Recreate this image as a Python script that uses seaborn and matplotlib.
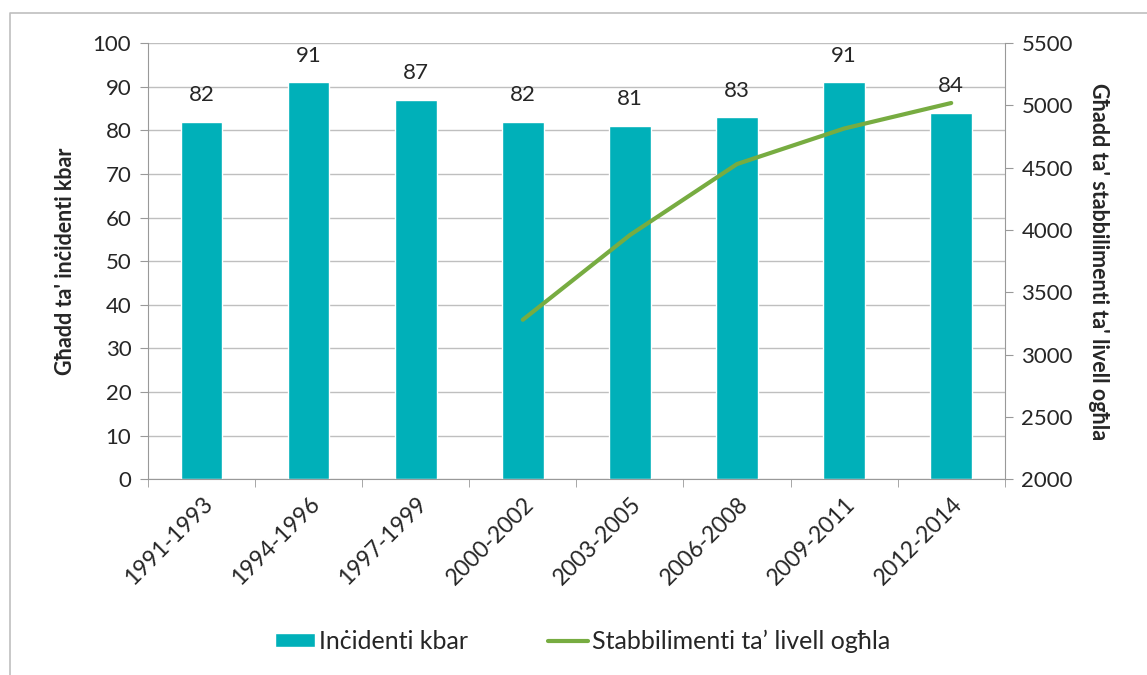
import numpy as np
import pandas as pd
import seaborn as sns
from matplotlib import pyplot as plt
from matplotlib.lines import Line2D

periods = ['1991-1993', '1994-1996', '1997-1999', '2000-2002',
           '2003-2005', '2006-2008', '2009-2011', '2012-2014']
incidents = [82, 91, 87, 82, 81, 83, 91, 84]
establishments = [np.nan, np.nan, np.nan, 3280, 3960, 4530, 4815, 5020]

bar_color = '#00B0B9'
line_color = '#77AC41'
grid_color = '#BFBFBF'

sns.set_style('white')
plt.rcParams['font.family'] = ['Lato', 'DejaVu Sans']

df = pd.DataFrame({'period': periods, 'incidents': incidents,
                   'establishments': establishments})
df['pos'] = np.arange(len(df))

fig = plt.figure(figsize=(11.47, 6.75), dpi=100)
ax = fig.add_axes([0.129, 0.290, 0.747, 0.646])

sns.barplot(data=df, x='period', y='incidents', color=bar_color,
            width=0.39, saturation=1, ax=ax, label='Inċidenti kbar')
for p, v in zip(df['pos'], df['incidents']):
    ax.annotate(str(v), (p, v), xytext=(0, 12), textcoords='offset points',
                ha='center', va='bottom', fontsize=16)

ax.set_ylim(0, 100)
ax.set_yticks(range(0, 101, 10))
ax.set_xlim(-0.5, len(df) - 0.5)
ax.yaxis.grid(True, color=grid_color, linewidth=1)
ax.set_axisbelow(True)
ax.set_xlabel('')
ax.set_ylabel("Għadd ta' inċidenti kbar", fontsize=15.5, fontweight='bold',
              labelpad=12)
ax.set_xticks(np.arange(len(df)))
ax.set_xticklabels(periods, rotation=45, ha='right', rotation_mode='anchor',
                   fontsize=16.5)
ax.tick_params(axis='y', labelsize=16, length=6, color='#999999',
               direction='out', left=True, pad=6)
ax.tick_params(axis='x', length=0, pad=10)
# Excel style boundary ticks
ax.set_xticks(np.arange(len(df) + 1) - 0.5, minor=True)
ax.tick_params(axis='x', which='minor', length=6, color='#999999',
               direction='out', bottom=True)
for s in ['top', 'right']:
    ax.spines[s].set_visible(False)
for s in ['left', 'bottom']:
    ax.spines[s].set_color('#999999')

ax2 = ax.twinx()
line_df = df.dropna(subset=['establishments'])
sns.lineplot(data=line_df, x='pos', y='establishments', color=line_color,
             linewidth=3, ax=ax2, label='Stabbilimenti ta’ livell ogħla')
ax2.set_ylim(2000, 5500)
ax2.set_yticks(range(2000, 5501, 500))
ax2.set_ylabel("Għadd ta' stabbilimenti ta' livell ogħla", fontsize=15.5,
               fontweight='bold', rotation=270, labelpad=26)
ax2.tick_params(axis='y', labelsize=16, length=6, color='#999999',
                direction='out', right=True, pad=6)
for s in ['top', 'left', 'bottom']:
    ax2.spines[s].set_visible(False)
ax2.spines['right'].set_color('#999999')
ax2.set_xlim(-0.5, len(df) - 0.5)

h1, l1 = ax.get_legend_handles_labels()
h2, l2 = ax2.get_legend_handles_labels()
for a in (ax, ax2):
    if a.get_legend():
        a.get_legend().remove()
fig.legend(h1 + h2, l1 + l2, loc='center', bbox_to_anchor=(0.508, 0.05),
           ncol=2, frameon=False, fontsize=18, handlelength=1.6,
           handleheight=0.5, columnspacing=3.2, handletextpad=0.15)

# chart area border (top and left edges visible)
fig.lines.append(Line2D([10 / 1147, 10 / 1147, 1.0], [0.0, 1 - 13 / 675, 1 - 13 / 675],
                        transform=fig.transFigure, color='#BFBFBF', linewidth=1.2))

plt.savefig('out.png', dpi=100)
